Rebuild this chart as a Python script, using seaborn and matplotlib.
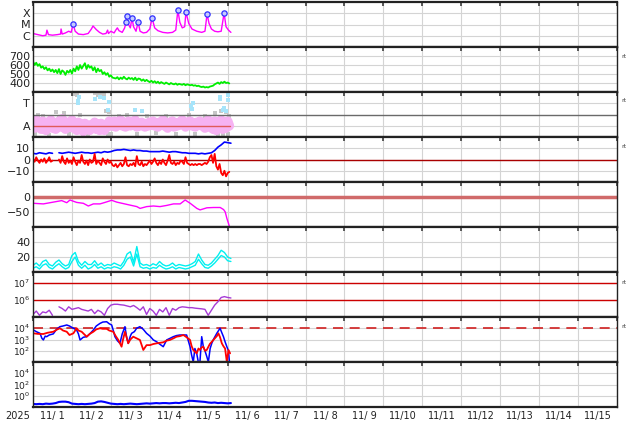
"""Multi-panel space weather overview, first days of Nov 2025."""

import matplotlib

matplotlib.use("Agg")

import matplotlib.dates as mdates
import matplotlib.pyplot as plt
import matplotlib.ticker as mticker
import numpy as np
import pandas as pd
import seaborn as sns

START = pd.Timestamp("2025-11-01")
END = pd.Timestamp("2025-11-16")

HOURLY = np.arange(0, 122)
TWO_HOURLY = np.arange(0, 123, 2)

# X-ray flux, (hour, log10 W/m2)
XRAY = [
    (0, -5.8), (3, -5.9), (6, -6.0), (8, -5.95), (8.6, -5.5), (9.5, -5.9), (12, -5.95),
    (15, -5.9), (17, -5.85), (17.3, -5.4), (18, -5.85), (20, -5.75), (22, -5.6),
    (23.5, -5.7), (24.7, -4.96), (26, -5.6), (28, -5.85), (31, -5.9), (34, -5.8),
    (36, -5.4), (37, -5.13), (39, -5.45), (41, -5.7), (43, -5.85), (45, -5.8),
    (46, -5.5), (46.5, -5.8), (48, -5.6), (50, -5.75), (51, -5.5), (52, -5.3),
    (53, -5.55), (55, -5.7), (56.5, -5.3), (57.4, -4.78), (57.8, -4.24), (58.5, -4.9),
    (60, -5.3), (61, -4.42), (62, -5.2), (63.5, -5.6), (64.8, -4.78), (66, -5.6),
    (68, -5.75), (70, -5.7), (72, -5.4), (73.4, -4.42), (75, -5.3), (77, -5.55),
    (80, -5.7), (83, -5.75), (86, -5.7), (88, -5.5), (89.3, -3.71), (90.5, -4.8),
    (92, -5.3), (93.5, -5.2), (94.3, -3.89), (96, -4.9), (98, -5.4), (101, -5.6),
    (104, -5.7), (106, -5.6), (107.3, -4.07), (108.5, -4.9), (110, -5.4), (112, -5.6),
    (114, -5.65), (116, -5.6), (117.8, -3.98), (119, -5.2), (120.5, -5.5), (122, -5.7),
]
FLARE_HOURS = [24.7, 57.4, 57.8, 61, 64.8, 73.4, 89.3, 94.3, 107.3, 117.8]
FLARE_EXP = [-4.96, -4.78, -4.24, -4.42, -4.78, -4.42, -3.71, -3.89, -4.07, -3.98]

# solar wind speed (km/s), hourly
WIND_SPEED = [
    640, 600, 625, 590, 610, 570, 585,
    555, 575, 540, 560, 530, 550,
    520, 545, 510, 555, 500, 540, 525, 490, 535, 515, 545, 505,
    560, 530, 585, 545, 600, 560, 590, 620, 555, 600, 570, 585,
    540, 575, 520, 560, 530, 545, 500, 520,
    490, 510, 470, 485, 460, 455,
    450, 465, 440, 460, 445, 470, 450, 440, 460, 445, 455, 435, 460, 430, 450, 445, 425, 440, 420, 435,
    420, 410, 425, 405, 420, 400, 415, 395, 410, 400, 390, 405, 395, 385, 400, 390,
    385, 395, 380, 390, 385, 380, 390, 375, 385, 380, 375, 380, 370, 375, 365, 370, 360,
    355, 360, 350, 355, 350, 360, 365, 370, 385,
    395, 405, 390, 410, 400, 415, 400, 405, 395,
]

# sector panel: pink band (hourly), gray and light blue points
SECTOR_BAND = [
    1.3, 0.8, 1.5, 0.9, 1.2, 0.7, 1.4, 1.0, 0.6, 1.3, 0.9, 1.5, 0.8, 1.1, 0.7, 1.2, 1.4, 0.9, 1.6, 1.0, 0.7, 1.3, 0.9, 1.2,
    1.5, 0.8, 1.1, 0.6, 1.3, 0.7, 1.0, 0.5, 1.2, 0.7, 0.9, 0.6, 1.1, 0.8, 1.3, 0.7, 1.0, 0.6, 1.2, 0.8, 0.6, 1.1, 0.9, 1.4,
    1.2, 1.0, 1.4, 0.9, 1.3, 1.1, 1.5, 1.0, 1.3, 0.9, 1.2, 1.4, 1.0, 1.3, 1.1, 1.5, 0.9, 1.2, 1.0, 1.3, 1.1, 0.9, 1.2, 1.0,
    1.3, 1.1, 1.4, 1.0, 1.2, 0.9, 1.3, 1.1, 1.5, 1.0, 1.2, 0.8, 1.3, 1.1, 1.4, 0.9, 1.2, 1.0, 1.3, 1.1, 1.5, 1.2, 0.9, 1.3,
    1.1, 1.4, 1.0, 1.2, 0.9, 1.3, 1.1, 1.4, 1.0, 1.2, 0.8, 1.3, 1.5, 0.9, 1.2, 0.7, 1.4, 0.6, 1.3, 0.9, 1.5, 0.7, 1.2, 0.8, 1.4, 1.0,
]
SECTOR_GRAY = [
    (1, 0.3), (3, 2.0), (6, 1.9), (10, 0.2), (14, 2.2), (16, 1.8), (19, 2.1), (22, 0.25),
    (26, 3.85), (27, 3.7), (29, 2.0), (31, 0.3), (34, 0.2), (38, 3.9), (40, 3.75), (42, 3.85),
    (44, 3.7), (45, 2.3), (46, 0.3), (47, 2.2), (48, 0.25), (53, 1.9), (58, 2.0), (64, 0.3),
    (70, 1.85), (76, 0.35), (82, 1.9), (88, 0.3), (96, 2.0), (100, 0.3), (106, 1.9), (112, 2.1),
    (114, 0.2), (116, 2.3), (117, 0.15), (119, 2.2), (120, 0.3), (121, 1.9),
]
SECTOR_BLUE = [
    (27.5, 3.2), (28, 3.0), (28.5, 3.6), (38, 3.4), (41, 3.6), (44, 3.5), (46, 2.4), (47, 3.1),
    (63, 2.4), (67, 2.3), (97.5, 2.8), (98, 2.5), (98.5, 3.0), (115, 3.4), (115.5, 3.6),
    (117, 2.4), (118, 2.6), (119, 2.3), (120, 3.7), (120.5, 3.3),
]

# IMF Bt (2-hourly) and Bz (hourly), nT
IMF_BT = [
    5.5, 5, 6, 5.5, 5, 6, 5.5,
    np.nan,
    6, 5.5, 6, 6.5, 6, 5.5, 6, 6.5, 6, 6, 5.5, 6, 6.5, 6, 7, 6.5, 7,
    8, 8.5, 8.5, 9, 8.5, 8, 8.5, 8, 8, 7.5, 7.5, 7, 7,
    7, 7, 7.5, 7, 6.5, 7, 7, 6.5, 6, 6, 5.5, 5.5,
    5.5, 5, 5.5, 5, 5.5, 6,
    8, 11, 13, 15.5, 15, 14.5,
]
IMF_BZ = [
    1, -2, 2, -1, -3, 0, -2, 1, -3, -1, 2, -2, -1,
    np.nan, np.nan, np.nan,
    0, -3, 3, -2, -4, 1, -3, -1, -4, 2, -2, -5, -1, -3, 4, -2, -4, -1, -5, 0, -3, -2, 5, -4,
    -1, -3, -5, 1, -2, -4, 0, -3, -2,
    -5, -6, -4, -7, -5, -3, -6, -4, 2, -5, -6, -4, -5, -3, -6, 3, -4, -5, -2, -6, -4, -5,
    -3, -1, -4, -2, 1, -3, -5, -2, -4, 0, -3, -5, -1, 4, -3, -4, -2, -5, -3, -4, -1, -2, -4, 2, -3,
    -4, -5, -4, -5, -4, -5, -4, -4, -5, -4, -3, -4, -2,
    2, 4, -3, 5, -6, -9, -4, -12, -14, -10, -15, -12, -11,
]

# Dst index (nT)
DST_HOURS = [0.2, 6.4, 10.5, 17.7, 20.8, 22.8, 26.9, 31, 34.1, 37.2, 41.3, 44.4, 48.5, 51.6,
             55.7, 59.8, 64, 66, 70.1, 74.2, 78.3, 82.5, 86.6, 90.7, 93.8, 96.9, 101, 103,
             107.2, 111.3, 115.4, 117.5, 118.5, 119.5, 121.2]
DST = [-21, -23, -19, -12, -19, -10, -18, -21, -30, -23, -23, -18, -11, -17, -22, -27, -32,
       -38, -32, -30, -32, -28, -23, -23, -10, -21, -38, -43, -36, -35, -35, -42, -50, -71, -100]

# two cyan traces, 2-hourly
CYAN_HIGH = [
    9, 12, 8, 14, 16, 10, 8, 13, 16, 11, 8, 10, 22, 26, 14, 9, 14, 10,
    10, 15, 9, 12, 8, 10, 9, 12, 10, 8, 14, 24, 27, 13, 34, 12, 9, 10,
    8, 11, 9, 14, 10, 8, 9, 12, 8, 10, 9, 8, 9, 11, 14, 24, 16, 10,
    9, 12, 17, 22, 29, 26, 20, 18,
]
CYAN_LOW = [
    5, 7, 4, 9, 11, 6, 4, 8, 11, 7, 4, 6, 14, 20, 9, 5, 9, 4,
    6, 10, 5, 7, 4, 6, 5, 7, 6, 4, 9, 17, 20, 8, 24, 7, 5, 6,
    4, 6, 5, 9, 6, 4, 5, 7, 4, 6, 5, 4, 5, 7, 9, 17, 11, 6,
    5, 8, 12, 17, 22, 20, 15, 14,
]

# electron flux, log10, 2-hourly
ELECTRON_EXP = [
    5.15, 5.35, 5.1, 5.3, 5.25, 5.4,
    5.1, np.nan,
    5.6, 5.5, 5.35, 5.6, 5.45, 5.5, 5.55,
    5.45, 5.4, 5.35, 5.45, 5.2, 5.4, 5.3, 5.1, 5.5,
    5.7, 5.75, 5.75, 5.72, 5.7, 5.65, 5.6, 5.68, 5.55,
    5.4, 5.6, 5.15, 5.5, 5.35, 5.1, 5.45, 5.3, 5.55, 5.1, 5.5, 5.4, 5.55,
    5.6, 5.58, 5.55, 5.55, 5.52, 5.5, 5.48, 5.45, 5.1,
    5.4, 5.7, 5.9, 6.15, 6.2, 6.15, 6.12,
]

# two particle channels, (hour, log10)
PARTICLE_BLUE = [
    (0.2, 3.85), (2, 3.7), (4.3, 3.55), (5.5, 3.1), (6.4, 2.96), (7.5, 3.3), (8.4, 3.25),
    (10, 3.4), (12.5, 3.5), (14.5, 3.9), (16.6, 4.14), (18.5, 4.2), (20.8, 4.29), (22.5, 4.2),
    (24.9, 4.0), (26.9, 3.84), (28, 3.5), (29, 2.96), (31, 3.2), (33.1, 3.25), (35, 3.5),
    (37.2, 3.84), (39, 4.2), (41.3, 4.43), (43, 4.55), (45.4, 4.58), (47, 4.4), (48.5, 4.29),
    (49.5, 3.8), (50.5, 3.25), (52, 2.9), (53.6, 2.66), (55, 3.5), (56.7, 4.14), (57.7, 3.2),
    (58.7, 2.66), (60, 3.3), (60.8, 3.55), (62.5, 3.7), (63.9, 4.0), (65.9, 4.14), (68, 3.9),
    (70, 3.55), (72.1, 3.3), (74.2, 2.96), (76.2, 2.8), (78, 2.6), (80.3, 2.36), (82.4, 2.96),
    (84.4, 3.1), (86.5, 3.25), (88.5, 3.35), (90.6, 3.4), (92.7, 3.4), (94.7, 3.4),
    (96.8, 2.36), (97.8, 1.6), (98.8, 1.0), (99.8, 2.2), (100.9, 1.77), (101.9, 1.0),
    (102.9, 1.0), (104, 3.25), (105, 2.36), (106, 2.0), (107.1, 1.5), (108.1, 1.0),
    (109.2, 2.2), (110.2, 2.66), (111.2, 3.0), (113.3, 3.55), (115.3, 4.0), (116.4, 3.6),
    (117.4, 3.25), (118.4, 2.8), (119.5, 2.36), (120.5, 2.0), (121.1, 1.0),
]
PARTICLE_RED = [
    (0.2, 3.55), (3, 3.5), (6.4, 3.49), (9, 3.6), (12.5, 3.69), (15, 3.9), (16.6, 4.0),
    (18.5, 3.8), (20.8, 3.69), (22.5, 3.4), (24.9, 3.55), (26.9, 4.0), (28, 3.8), (30, 3.69),
    (33.1, 3.25), (35, 3.5), (37.2, 3.69), (39, 3.9), (41.3, 4.0), (43, 3.95), (45.4, 3.95),
    (47, 3.8), (49.5, 3.69), (51, 3.3), (52.6, 2.96), (54.6, 2.36), (55.5, 3.0), (56.7, 3.69),
    (57.7, 3.2), (58.7, 2.66), (60, 3.0), (61.8, 3.25), (63.9, 3.1), (65.9, 2.96), (67, 2.5),
    (68, 2.07), (70, 2.5), (72.1, 2.5), (74.2, 2.6), (76.2, 2.66), (78, 2.7), (80.3, 2.75),
    (82.4, 2.9), (84.4, 2.96), (86.5, 3.1), (88.5, 3.25), (90.6, 3.3), (92.7, 3.4),
    (94.7, 3.2), (96.8, 2.96), (97.8, 2.4), (98.8, 2.07), (100.9, 1.77), (102, 2.2),
    (102.9, 2.07), (104, 2.3), (105, 2.36), (106, 2.0), (107.1, 2.07), (109, 2.6),
    (111.2, 2.96), (113.3, 3.3), (114.3, 3.55), (115.3, 3.2), (116.4, 2.66), (117.4, 2.4),
    (118.4, 2.2), (119.5, 1.0), (120.5, 2.07), (121.5, 1.77),
]

# low channel, log10, 2-hourly
LOW_CHANNEL_EXP = [
    -1.45, -1.5, -1.45, -1.5, -1.4, -1.45, -1.4, -1.3,
    -1.1, -1.05, -1.05, -1.15,
    -1.4, -1.45, -1.5, -1.45, -1.5, -1.45, -1.4, -1.3,
    -1.05, -1.0, -1.1, -1.25,
    -1.4, -1.45, -1.5, -1.45, -1.5, -1.45, -1.4, -1.45, -1.5, -1.45, -1.4, -1.35,
    -1.4, -1.35, -1.3, -1.35, -1.3, -1.3, -1.35, -1.3, -1.25, -1.3, -1.2, -1.1,
    -0.9, -0.9, -0.95, -1.0, -1.05, -1.1,
    -1.2, -1.25, -1.2, -1.3, -1.25, -1.3, -1.35, -1.3,
]

RIGHT_NOTES_Y = [57, 101, 147, 282, 327]


def to_time(hours):
    return START + pd.to_timedelta(np.asarray(hours, dtype=float), unit="h")


def unzip(pairs):
    hours, values = zip(*pairs)
    return to_time(hours), np.asarray(values, dtype=float)


def day_label(value, _pos):
    d = mdates.num2date(value)
    return f"{d.month}/{d.day:2d}"


sns.set_theme(style="white")
plt.rcParams["font.family"] = ["DejaVu Sans"]

fig, axes = plt.subplots(9, 1, figsize=(6.34, 4.24), dpi=100, sharex=True,
                         gridspec_kw={"hspace": 0})
fig.subplots_adjust(left=33 / 634, right=617 / 634, top=1 - 2 / 424, bottom=1 - 407 / 424)

grid_kw = {"color": "#d4d4d4", "linewidth": 0.8}

# 1: X-ray flux
ax = axes[0]
t, v = unzip(XRAY)
sns.lineplot(x=t, y=10.0 ** v, ax=ax, color="#ff00ff", linewidth=1.0, estimator=None)
ax.plot(to_time(FLARE_HOURS), 10.0 ** np.asarray(FLARE_EXP), linestyle="none", marker="o",
        markersize=3.8, markerfacecolor="#c4caff", markeredgecolor="#3030ff", markeredgewidth=0.9)
ax.set_yscale("log")
ax.set_ylim(1e-7, 1e-3)
ax.set_yticks([1e-6, 1e-5, 1e-4], ["C", "M", "X"])

# 2: solar wind speed
ax = axes[1]
sns.lineplot(x=to_time(HOURLY), y=WIND_SPEED, ax=ax, color="#00ee00", linewidth=1.3, estimator=None)
ax.set_ylim(300, 800)
ax.set_yticks([400, 500, 600, 700])

# 3: sector panel
ax = axes[2]
t, v = unzip(SECTOR_GRAY)
sns.scatterplot(x=t, y=v, ax=ax, color="#c6c6c6", s=6, marker="s", linewidth=0)
sns.lineplot(x=to_time(HOURLY), y=SECTOR_BAND, ax=ax, color="#f6b2f2", linewidth=7, estimator=None)
t, v = unzip(SECTOR_BLUE)
sns.scatterplot(x=t, y=v, ax=ax, color="#a6e4fa", s=6, marker="s", linewidth=0)
ax.plot(to_time([0, 121.5]), [1, 1], color="#e05a5a", linewidth=1.0)
ax.axhline(2, color="#6a6a6a", linewidth=1.0)
ax.set_ylim(0, 4)
ax.set_yticks([1, 3], ["A", "T"])

# 4: IMF
ax = axes[3]
ax.axhline(0, color="#aa0000", linewidth=1.0, zorder=1.8)
ax.plot(to_time(TWO_HOURLY), IMF_BT, color="#0000ff", linewidth=1.2)
ax.plot(to_time(HOURLY), IMF_BZ, color="#ff0000", linewidth=1.3)
ax.set_ylim(-20, 20)
ax.set_yticks([-10, 0, 10])

# 5: Dst
ax = axes[4]
ax.axhline(0, color="#d06a6a", linewidth=2.5, zorder=1.8)
sns.lineplot(x=to_time(DST_HOURS), y=DST, ax=ax, color="#ff00ff", linewidth=1.0, estimator=None)
ax.set_ylim(-100, 50)
ax.set_yticks([-50, 0])

# 6: cyan traces
ax = axes[5]
sns.lineplot(x=to_time(TWO_HOURLY), y=CYAN_HIGH, ax=ax, color="#00f0f0", linewidth=1.0, estimator=None)
sns.lineplot(x=to_time(TWO_HOURLY), y=CYAN_LOW, ax=ax, color="#00f0f0", linewidth=1.0, estimator=None)
ax.set_ylim(0, 60)
ax.set_yticks([20, 40])

# 7: electron flux
ax = axes[6]
ax.plot(to_time(TWO_HOURLY), 10.0 ** np.asarray(ELECTRON_EXP), color="#a63ad6", linewidth=1.0)
for level in (1e6, 1e7):
    ax.axhline(level, color="#cc0000", linewidth=1.0, zorder=1.8)
ax.set_yscale("log")
ax.set_ylim(1e5, 10 ** 7.65)
ax.set_yticks([1e6, 1e7])

# 8: particle channels
ax = axes[7]
ax.axhline(1e4, color="#d02020", linewidth=1.2, dashes=(6, 4), zorder=1.8)
t, v = unzip(PARTICLE_BLUE)
sns.lineplot(x=t, y=10.0 ** v, ax=ax, color="#0000ff", linewidth=1.1, estimator=None)
t, v = unzip(PARTICLE_RED)
sns.lineplot(x=t, y=10.0 ** v, ax=ax, color="#ff0000", linewidth=1.3, estimator=None)
ax.set_yscale("log")
ax.set_ylim(10, 1e5)
ax.set_yticks([1e2, 1e3, 1e4])

# 9: low channel
ax = axes[8]
sns.lineplot(x=to_time(TWO_HOURLY), y=10.0 ** np.asarray(LOW_CHANNEL_EXP), ax=ax,
             color="#0000ff", linewidth=1.5, estimator=None)
ax.set_yscale("log")
ax.set_ylim(1e-2, 1e6)
ax.set_yticks([1e0, 1e2, 1e4])

for i, ax in enumerate(axes):
    ax.set_facecolor("white")
    ax.set_xlabel("")
    ax.set_ylabel("")
    for side in ("top", "bottom"):
        ax.spines[side].set_linewidth(1.6)
        ax.spines[side].set_color("#222222")
    for side in ("left", "right"):
        ax.spines[side].set_linewidth(1.0)
        ax.spines[side].set_color("#222222")
    ax.yaxis.set_minor_locator(mticker.NullLocator())
    ax.grid(True, axis="y", which="major", **grid_kw)
    ax.grid(True, axis="x", which="major", **grid_kw)
    label_size = 6.6 if i in (6, 7, 8) else 8
    ax.tick_params(axis="y", which="both", direction="in", length=0, labelsize=label_size,
                   pad=2, labelcolor="#222222")
    ax.tick_params(axis="x", which="major", direction="in", length=3, top=True,
                   color="#444444", labelbottom=False)
    ax.tick_params(axis="x", which="minor", length=0, labelbottom=False)

axes[-1].xaxis.set_major_locator(mdates.DayLocator())
axes[-1].xaxis.set_major_formatter(mticker.NullFormatter())
axes[-1].xaxis.set_minor_locator(mdates.HourLocator(byhour=12))
axes[-1].xaxis.set_minor_formatter(mticker.FuncFormatter(day_label))
axes[-1].tick_params(axis="x", which="minor", labelbottom=True, labelsize=7, pad=3,
                     labelcolor="#222222")
axes[-1].set_xlim(START, END)

fig.text(18 / 634, 1 - 416 / 424, "2025", fontsize=7, ha="center", va="center", color="#222222")
for y in RIGHT_NOTES_Y:
    fig.text(621 / 634, 1 - y / 424, "rt", fontsize=4.5, ha="left", va="center", color="#444444")

fig.savefig("out.png", dpi=100)
